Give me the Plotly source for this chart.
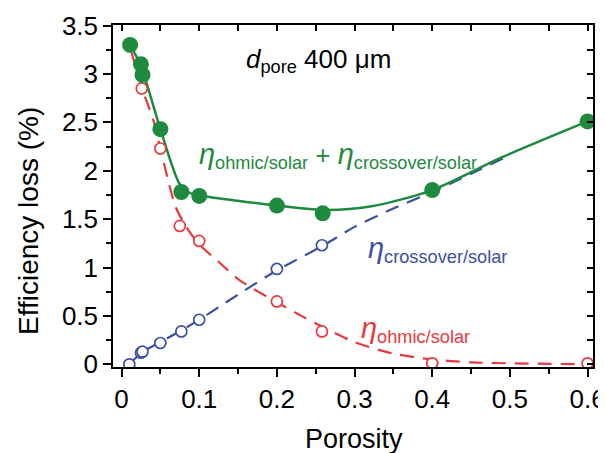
import plotly.graph_objects as go

# ---- data ----
porosity_total = [0.011, 0.025, 0.027, 0.05, 0.077, 0.10, 0.20, 0.259, 0.40, 0.60]
eta_total = [3.30, 3.10, 2.99, 2.43, 1.78, 1.74, 1.64, 1.56, 1.80, 2.51]

porosity_ohmic = [0.026, 0.05, 0.075, 0.10, 0.20, 0.258, 0.40, 0.60]
eta_ohmic = [2.85, 2.23, 1.43, 1.275, 0.65, 0.34, 0.01, 0.01]

porosity_cross = [0.01, 0.025, 0.027, 0.05, 0.077, 0.10, 0.20, 0.258]
eta_cross = [0.0, 0.12, 0.13, 0.22, 0.34, 0.46, 0.985, 1.23]

# fitted curves as drawn in the reference
fit_total_x = [0.011, 0.025, 0.05, 0.075, 0.088, 0.10, 0.15, 0.20, 0.26, 0.32, 0.40, 0.49, 0.60]
fit_total_y = [3.30, 3.08, 2.43, 1.86, 1.77, 1.745, 1.69, 1.64, 1.595, 1.63, 1.80, 2.14, 2.51]

fit_ohmic_x = [0.013, 0.026, 0.041, 0.05, 0.06, 0.07, 0.085, 0.10, 0.125, 0.15, 0.20, 0.234, 0.258,
               0.30, 0.35, 0.40, 0.45, 0.50, 0.60]
fit_ohmic_y = [3.22, 2.86, 2.52, 2.23, 1.90, 1.62, 1.40, 1.24, 1.06, 0.88, 0.64, 0.49, 0.39,
               0.23, 0.11, 0.05, 0.02, 0.01, 0.0]

fit_cross_x = [0.01, 0.026, 0.05, 0.077, 0.10, 0.15, 0.20, 0.258, 0.30, 0.35, 0.40, 0.45, 0.50]
fit_cross_y = [0.0, 0.12, 0.23, 0.35, 0.46, 0.72, 0.97, 1.22, 1.42, 1.61, 1.78, 1.97, 2.16]

x_ticks = [0, 0.1, 0.2, 0.3, 0.4, 0.5, 0.6]
x_tick_text = ["0", "0.1", "0.2", "0.3", "0.4", "0.5", "0.6"]
y_ticks = [0, 0.5, 1, 1.5, 2, 2.5, 3, 3.5]
y_tick_text = ["0", "0.5", "1", "1.5", "2", "2.5", "3", "3.5"]

GREEN = "#1d8a3d"
RED = "#e8383d"
BLUE = "#3b4ea6"
FONT = "Liberation Sans, Arial, sans-serif"

fig = go.Figure()

fig.add_trace(go.Scatter(x=fit_ohmic_x, y=fit_ohmic_y, mode="lines",
                         line=dict(color=RED, width=2.2, dash="14px,9px", shape="spline", smoothing=0.8),
                         hoverinfo="skip"))
fig.add_trace(go.Scatter(x=fit_cross_x, y=fit_cross_y, mode="lines",
                         line=dict(color=BLUE, width=2.2, dash="14px,9px", shape="spline", smoothing=0.8),
                         hoverinfo="skip"))
fig.add_trace(go.Scatter(x=fit_total_x, y=fit_total_y, mode="lines",
                         line=dict(color=GREEN, width=2.5, shape="spline", smoothing=0.8),
                         hoverinfo="skip"))

fig.add_trace(go.Scatter(x=porosity_ohmic, y=eta_ohmic, mode="markers",
                         marker=dict(symbol="circle", size=11, color="white",
                                     line=dict(color=RED, width=1.7))))
fig.add_trace(go.Scatter(x=porosity_cross, y=eta_cross, mode="markers",
                         marker=dict(symbol="circle", size=11, color="white",
                                     line=dict(color=BLUE, width=1.7))))
fig.add_trace(go.Scatter(x=porosity_total, y=eta_total, mode="markers",
                         marker=dict(symbol="circle", size=16, color=GREEN,
                                     line=dict(color=GREEN, width=0))))

XR = [-0.011, 0.607]
YR = [-0.028, 3.506]

# the page body adds an 8px offset, so the figure is 598x445 and margins are shifted
fig.update_layout(
    width=598, height=445,
    margin=dict(l=105, r=13, t=17, b=86, autoexpand=False),
    paper_bgcolor="white", plot_bgcolor="white",
    showlegend=False,
    font=dict(family=FONT, color="black"),
    xaxis=dict(range=XR, tickvals=x_ticks, ticktext=x_tick_text, ticks="outside", ticklen=8,
               tickwidth=1.5, tickcolor="black", showline=True, linecolor="black", linewidth=1.5,
               showgrid=False, zeroline=False, tickfont=dict(size=26, family=FONT), automargin=False,
               minor=dict(dtick=0.05, tick0=0, ticks="outside", ticklen=5, tickwidth=1.5,
                          tickcolor="black", showgrid=False)),
    yaxis=dict(range=YR, tickvals=y_ticks, ticktext=y_tick_text, ticks="outside", ticklen=8,
               tickwidth=1.5, tickcolor="black", showline=True, linecolor="black", linewidth=1.5,
               showgrid=False, zeroline=False, tickfont=dict(size=26, family=FONT), automargin=False,
               minor=dict(dtick=0.25, tick0=0, ticks="outside", ticklen=5, tickwidth=1.5,
                          tickcolor="black", showgrid=False)),
    xaxis2=dict(range=XR, overlaying="x", side="top", tickmode="linear", tick0=0, dtick=0.05,
                ticks="inside", ticklen=6, tickwidth=1.5, tickcolor="black", showticklabels=False,
                showline=True, linecolor="black", linewidth=1.5, showgrid=False, zeroline=False,
                automargin=False),
    yaxis2=dict(range=YR, overlaying="y", side="right", tickmode="linear", tick0=0, dtick=0.25,
                ticks="inside", ticklen=6, tickwidth=1.5, tickcolor="black", showticklabels=False,
                showline=True, linecolor="black", linewidth=1.5, showgrid=False, zeroline=False,
                automargin=False),
)

# invisible trace to activate the mirrored axes
fig.add_trace(go.Scatter(x=[None], y=[None], xaxis="x2", yaxis="y2", showlegend=False, hoverinfo="skip"))

# helpers converting page pixel positions to paper coordinates of the plot area (113..593, 25..367)
def px_x(px):
    return (px - 113) / 480.0

def px_y(py):
    return (367 - py) / 342.0

ETA = '<span style="font-size:29px"><i>η</i></span>'

annotations = [
    dict(text="Efficiency loss (%)", x=px_x(28), y=px_y(221), textangle=-90,
         font=dict(size=28, color="black", family=FONT)),
    dict(text="Porosity", x=px_x(354), y=px_y(439),
         font=dict(size=27, color="black", family=FONT)),
    dict(text="<i>d</i><sub>pore</sub> 400 μm", x=px_x(318), y=px_y(60),
         font=dict(size=26, color="black", family=FONT)),
    dict(text=ETA + "<sub>ohmic/solar</sub> + " + ETA + "<sub>crossover/solar</sub>", x=px_x(338), y=px_y(155),
         font=dict(size=26, color=GREEN, family=FONT)),
    dict(text=ETA + "<sub>crossover/solar</sub>", x=px_x(437), y=px_y(249),
         font=dict(size=26, color=BLUE, family=FONT)),
    dict(text=ETA + "<sub>ohmic/solar</sub>", x=px_x(415), y=px_y(329),
         font=dict(size=26, color=RED, family=FONT)),
]
for a in annotations:
    a.update(xref="paper", yref="paper", showarrow=False, xanchor="center", yanchor="middle")
fig.update_layout(annotations=annotations)

fig.write_html("out.html")
